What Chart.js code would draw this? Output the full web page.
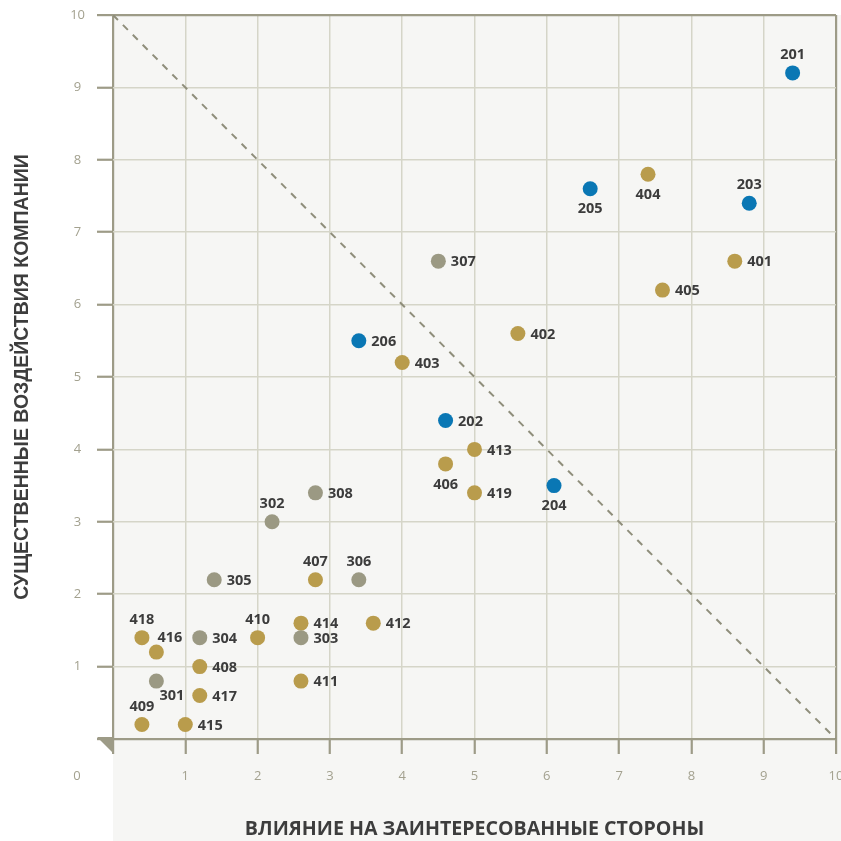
<!DOCTYPE html>
<html>
<head>
<meta charset="utf-8">
<script src="https://cdn.jsdelivr.net/npm/chart.js@4.4.1/dist/chart.umd.min.js"></script>
<style>
  html, body { margin: 0; padding: 0; background: #ffffff; }
  #wrap { width: 841px; height: 841px; }
</style>
</head>
<body>
<div id="wrap"><canvas id="c" width="841" height="841"></canvas></div>
<script>
// ---- Data ----
const xTickValues = [0, 1, 2, 3, 4, 5, 6, 7, 8, 9, 10];
const yTickValues = [0, 1, 2, 3, 4, 5, 6, 7, 8, 9, 10];

const blueCodes = ['201', '202', '203', '204', '205', '206'];
const blueX = [9.4, 4.6, 8.8, 6.1, 6.6, 3.4];
const blueY = [9.2, 4.4, 7.4, 3.5, 7.6, 5.5];

const grayCodes = ['301', '302', '303', '304', '305', '306', '307', '308'];
const grayX = [0.6, 2.2, 2.6, 1.2, 1.4, 3.4, 4.5, 2.8];
const grayY = [0.8, 3.0, 1.4, 1.4, 2.2, 2.2, 6.6, 3.4];

const goldCodes = ['401', '402', '403', '404', '405', '406', '407', '408', '409', '410',
                   '411', '412', '413', '414', '415', '416', '417', '418', '419'];
const goldX = [8.6, 5.6, 4.0, 7.4, 7.6, 4.6, 2.8, 1.2, 0.4, 2.0,
               2.6, 3.6, 5.0, 2.6, 1.0, 0.6, 1.2, 0.4, 5.0];
const goldY = [6.6, 5.6, 5.2, 7.8, 6.2, 3.8, 2.2, 1.0, 0.2, 1.4,
               0.8, 1.6, 4.0, 1.6, 0.2, 1.2, 0.6, 1.4, 3.4];

const diagX = [0, 10];
const diagY = [10, 0];

const xTitle = 'ВЛИЯНИЕ НА ЗАИНТЕРЕСОВАННЫЕ СТОРОНЫ';
const yTitle = 'СУЩЕСТВЕННЫЕ ВОЗДЕЙСТВИЯ КОМПАНИИ';

// ---- Styles ----
const blueLabelPlace = ['t', 'r', 't', 'b', 'b', 'r'];
const grayLabelPlace = ['br', 't', 'r', 'r', 'r', 't', 'r', 'r'];
const goldLabelPlace = ['r', 'r', 'r', 'b', 'r', 'b', 't', 'r', 't', 't',
                        'r', 'r', 'r', 'r', 'r', 'tr', 'r', 't', 'r'];

const COL_BLUE = '#0a77b4';
const COL_GRAY = '#9b9983';
const COL_GOLD = '#b99c4c';
const COL_AXIS = '#9d9b87';
const COL_GRID = '#d5d5c8';
const COL_TICK_TXT = '#a3a18f';
const COL_LABEL = '#3c3c3c';
const BG = '#f6f6f4';
const TICK_FONT = '13px "Open Sans"';

function pts(xs, ys) { return xs.map((x, i) => ({ x: x, y: ys[i] })); }

const bgPlugin = {
  id: 'bgPlugin',
  beforeDraw(chart) {
    const { ctx, chartArea } = chart;
    ctx.save();
    ctx.fillStyle = BG;
    ctx.fillRect(chartArea.left, chartArea.top, chart.width - chartArea.left, chart.height - chartArea.top);
    ctx.restore();
  },
  afterDraw(chart) {
    const { ctx, chartArea } = chart;
    const l = chartArea.left, b = chartArea.bottom;
    ctx.save();
    ctx.fillStyle = COL_AXIS;
    ctx.beginPath();
    ctx.moveTo(l - 16, b - 2);
    ctx.lineTo(l + 1, b - 2);
    ctx.lineTo(l + 1, b + 15);
    ctx.closePath();
    ctx.fill();
    // shared origin label and the last x label (drawn here so it may overhang the edge)
    const xs = chart.scales.x;
    const labelY = b + 15 + 14 + 7.8;
    ctx.fillStyle = COL_TICK_TXT;
    ctx.font = TICK_FONT;
    ctx.textAlign = 'center';
    ctx.textBaseline = 'middle';
    ctx.fillText(String(xTickValues[0]), 77, labelY);
    const last = xTickValues[xTickValues.length - 1];
    ctx.fillText(String(last), xs.getPixelForValue(last), labelY);
    ctx.restore();
  }
};

const labelPlugin = {
  id: 'labelPlugin',
  afterDatasetsDraw(chart) {
    const { ctx } = chart;
    const groups = [
      { ds: 1, codes: blueCodes, place: blueLabelPlace },
      { ds: 2, codes: grayCodes, place: grayLabelPlace },
      { ds: 3, codes: goldCodes, place: goldLabelPlace }
    ];
    ctx.save();
    ctx.fillStyle = COL_LABEL;
    ctx.font = 'bold 14.5px "Open Sans"';
    ctx.textBaseline = 'middle';
    groups.forEach(g => {
      const meta = chart.getDatasetMeta(g.ds);
      meta.data.forEach((el, i) => {
        const p = g.place[i];
        let x = el.x, y = el.y;
        if (p === 'r') { ctx.textAlign = 'left'; x += 12.5; y += 1; }
        else if (p === 't') { ctx.textAlign = 'center'; y -= 18; }
        else if (p === 'b') { ctx.textAlign = 'center'; y += 20.5; }
        else if (p === 'tr') { ctx.textAlign = 'left'; x += 1; y -= 14; }
        else if (p === 'br') { ctx.textAlign = 'left'; x += 3; y += 15; }
        ctx.fillText(g.codes[i], x, y);
      });
    });
    ctx.restore();
  }
};

function edge(v) { return v === 0 || v === 10; }

const chart = new Chart(document.getElementById('c'), {
  type: 'scatter',
  data: {
    datasets: [
      {
        type: 'line',
        data: pts(diagX, diagY),
        borderColor: '#8f8e7b',
        borderWidth: 2,
        borderDash: [7, 7],
        pointRadius: 0,
        fill: false,
        order: 5
      },
      { data: pts(blueX, blueY), backgroundColor: COL_BLUE, borderWidth: 0, pointRadius: 7.5, order: 1 },
      { data: pts(grayX, grayY), backgroundColor: COL_GRAY, borderWidth: 0, pointRadius: 7.5, order: 1 },
      { data: pts(goldX, goldY), backgroundColor: COL_GOLD, borderWidth: 0, pointRadius: 7.5, order: 1 }
    ]
  },
  options: {
    responsive: false,
    animation: false,
    events: [],
    layout: { autoPadding: false, padding: { top: 15, right: 5, left: 0, bottom: 0 } },
    plugins: { legend: { display: false }, tooltip: { enabled: false } },
    scales: {
      x: {
        type: 'linear',
        min: 0, max: 10,
        afterBuildTicks(scale) { scale.ticks = xTickValues.map(v => ({ value: v })); },
        afterFit(scale) { scale.height = 102; scale.paddingLeft = 0; scale.paddingRight = 0; },
        border: { display: false },
        grid: {
          color: ctx => edge(ctx.tick.value) ? COL_AXIS : COL_GRID,
          lineWidth: ctx => edge(ctx.tick.value) ? 2.2 : 1.5,
          tickColor: COL_AXIS,
          tickWidth: 2.2,
          tickLength: 15,
          drawTicks: true
        },
        ticks: {
          color: COL_TICK_TXT,
          font: { family: 'Open Sans', size: 13 },
          padding: 14,
          maxRotation: 0,
          autoSkip: false,
          callback: v => (v === 0 || v === 10) ? '' : String(v)
        },
        title: {
          display: true,
          text: xTitle,
          color: '#3d3d3d',
          font: { family: 'Open Sans', weight: 'bold', size: 19.6 },
          padding: { top: 0, bottom: 0 }
        }
      },
      y: {
        type: 'linear',
        min: 0, max: 10,
        afterBuildTicks(scale) { scale.ticks = yTickValues.map(v => ({ value: v })); },
        afterFit(scale) { scale.width = 113; scale.paddingTop = 0; scale.paddingBottom = 0; },
        border: { display: false },
        grid: {
          color: ctx => edge(ctx.tick.value) ? COL_AXIS : COL_GRID,
          lineWidth: ctx => edge(ctx.tick.value) ? 2.2 : 1.5,
          tickColor: COL_AXIS,
          tickWidth: 2.2,
          tickLength: 16,
          drawTicks: true
        },
        ticks: {
          color: COL_TICK_TXT,
          font: { family: 'Open Sans', size: 13 },
          padding: 12,
          crossAlign: 'center',
          autoSkip: false,
          callback: v => v === 0 ? '' : String(v)
        },
        title: {
          display: true,
          text: yTitle,
          color: '#3d3d3d',
          font: { family: 'Liberation Sans', weight: 'bold', size: 19.5 },
          padding: { top: 10.5, bottom: 0 }
        }
      }
    }
  },
  plugins: [bgPlugin, labelPlugin]
});
</script>
</body>
</html>
